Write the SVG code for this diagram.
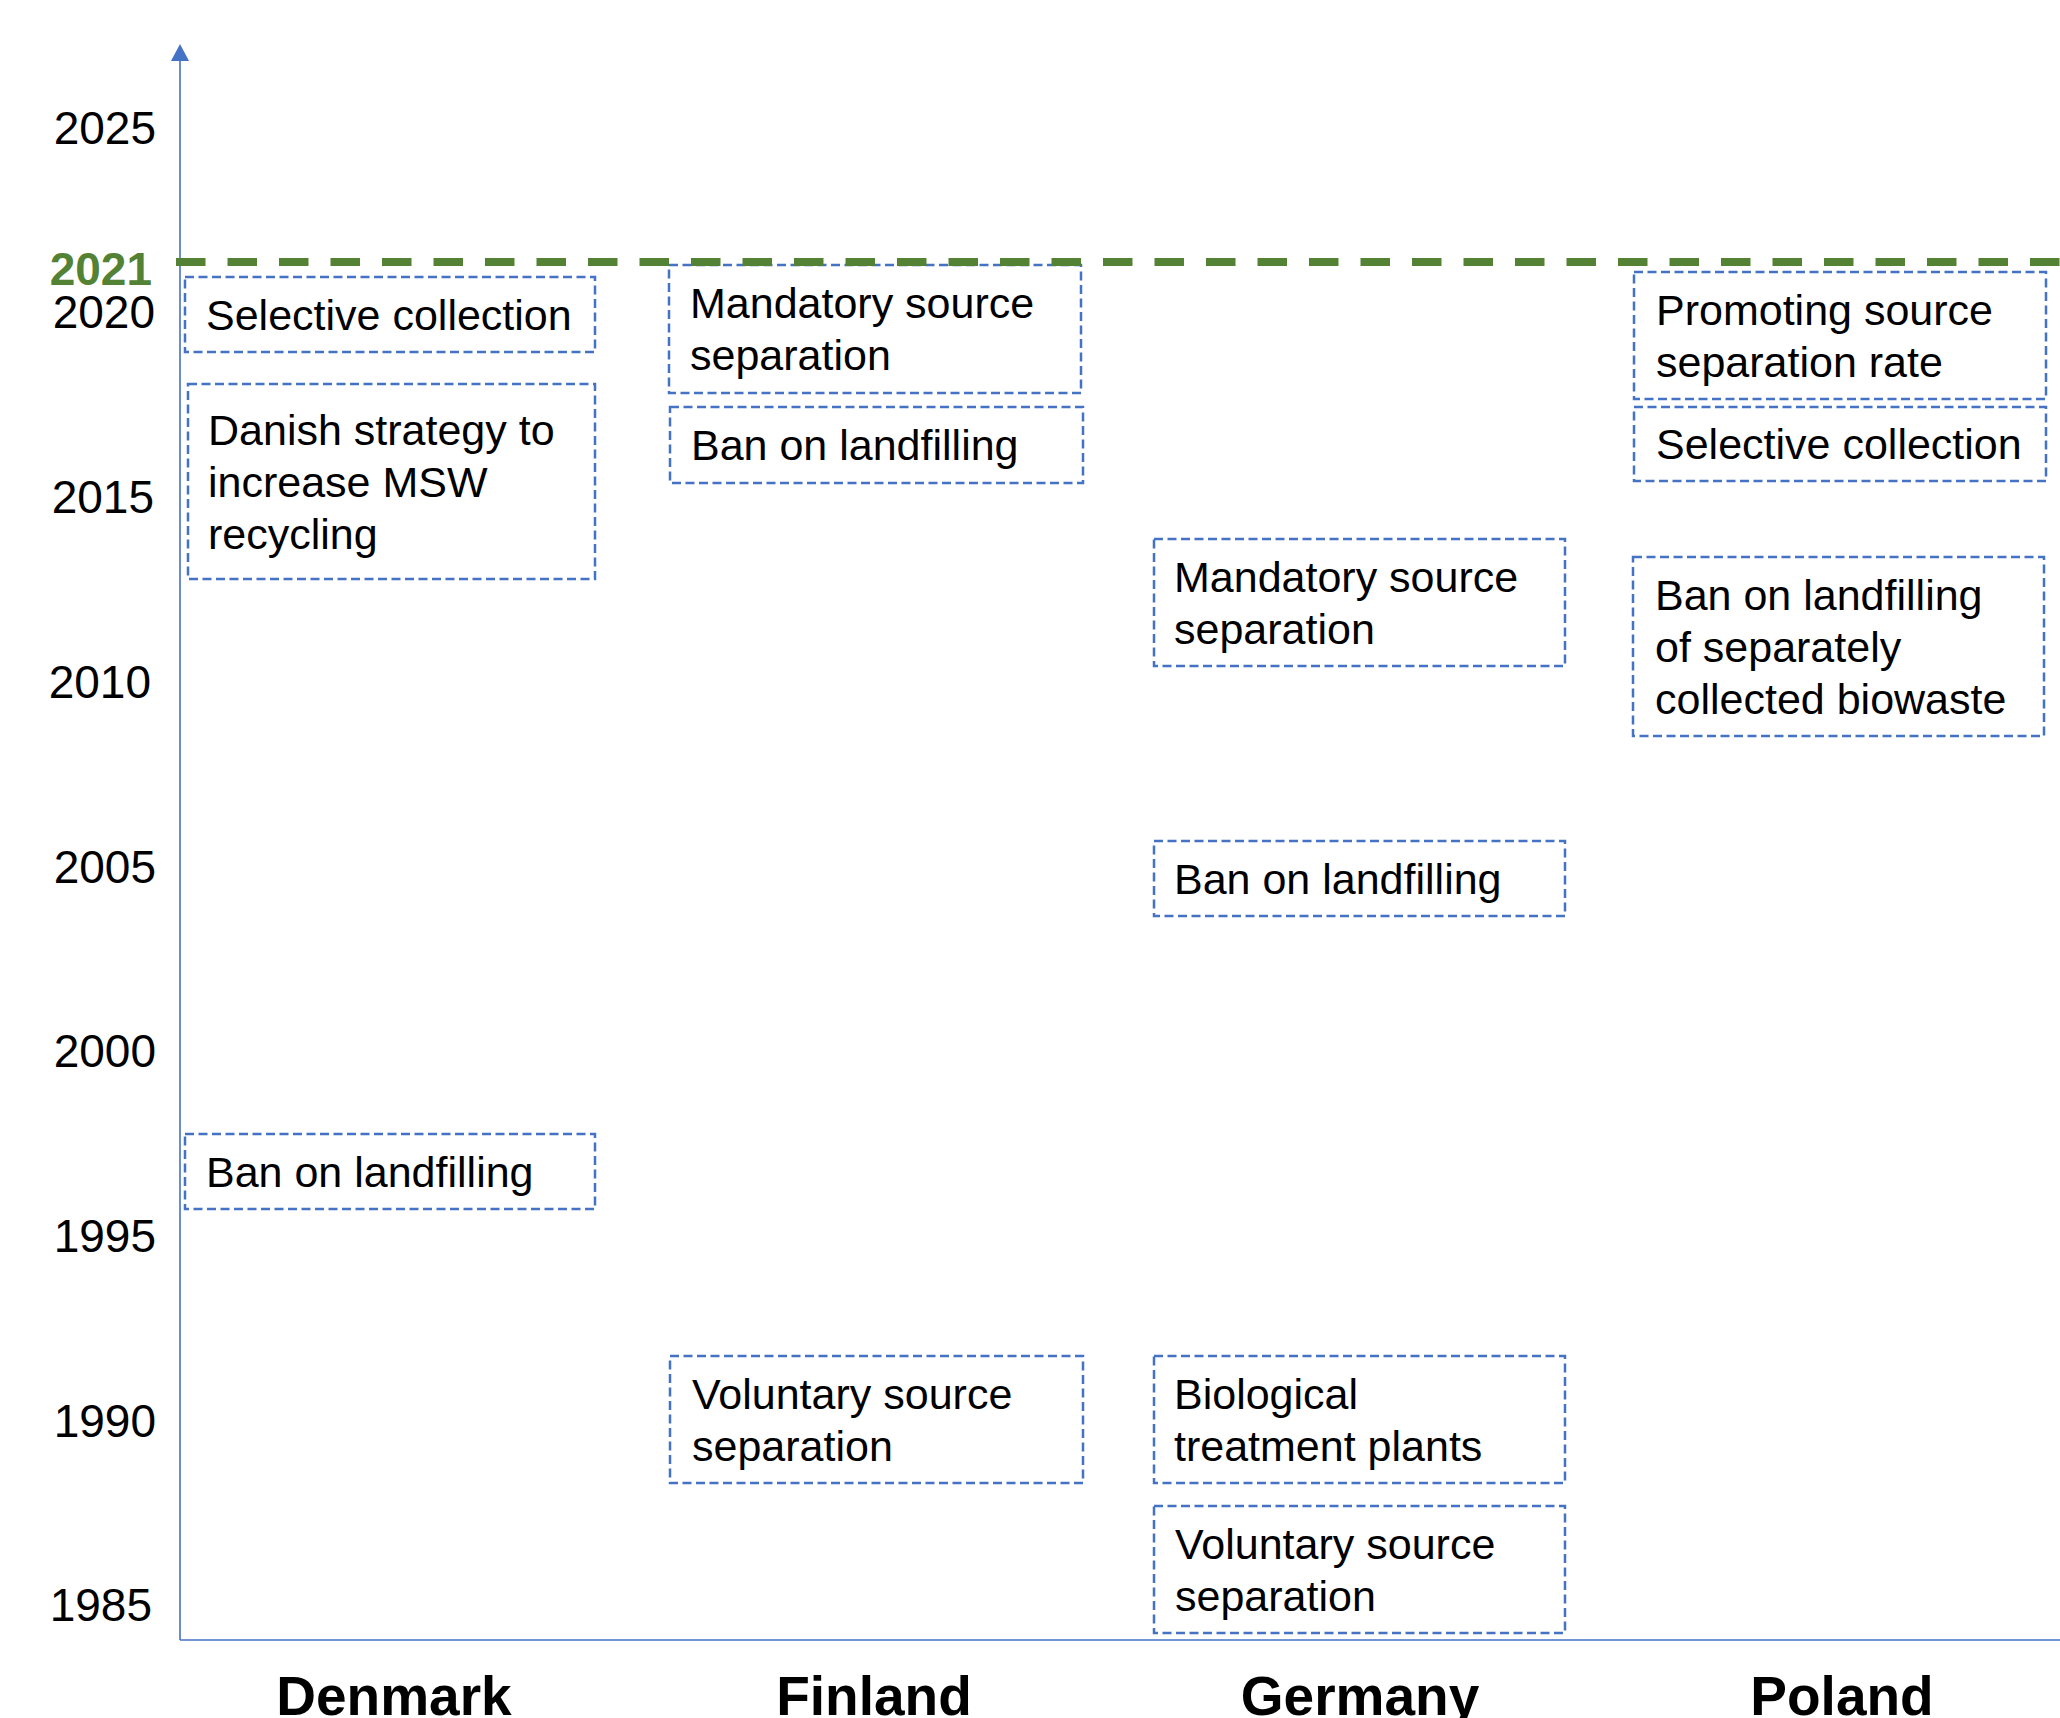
<svg xmlns="http://www.w3.org/2000/svg" width="2060" height="1718" viewBox="0 0 2060 1718">
<style>
.yr{font-family:"Liberation Sans",Arial,sans-serif;font-size:46px;fill:#000;text-anchor:end}
.box{fill:none;stroke:#4472C4;stroke-width:2.5;stroke-dasharray:9 4.5}
.t{font-family:"Liberation Sans",Arial,sans-serif;font-size:43px;fill:#000}
.country{font-family:"Liberation Sans",Arial,sans-serif;font-size:55px;font-weight:bold;fill:#000;text-anchor:middle}
.axis{stroke:#4472C4;stroke-width:1.6;fill:none}
</style>
<rect width="2060" height="1718" fill="#fff"/>
<g id="axes">
<line class="axis" x1="180" y1="1640" x2="180" y2="58"/>
<polygon points="180,44 171,61 189,61" fill="#4472C4"/>
<line class="axis" x1="180" y1="1640" x2="2060" y2="1640"/>
</g>
<g id="year-labels">
<text class="yr" x="156" y="144">2025</text>
<text class="yr" x="155" y="328">2020</text>
<text class="yr" x="154" y="513">2015</text>
<text class="yr" x="151" y="698">2010</text>
<text class="yr" x="156" y="883">2005</text>
<text class="yr" x="156" y="1067">2000</text>
<text class="yr" x="156" y="1252">1995</text>
<text class="yr" x="156" y="1437">1990</text>
<text class="yr" x="152" y="1621">1985</text>
</g>
<g id="dk-selective"><rect class="box" x="185" y="277" width="410" height="75"/><text class="t" x="206" y="330">Selective collection</text></g>
<g id="dk-strategy"><rect class="box" x="188" y="384" width="407" height="195"/><text class="t" x="208" y="445">Danish strategy to</text><text class="t" x="208" y="497">increase MSW</text><text class="t" x="208" y="549">recycling</text></g>
<g id="dk-ban"><rect class="box" x="185" y="1134" width="410" height="75"/><text class="t" x="206" y="1187">Ban on landfilling</text></g>
<g id="fi-mandatory"><rect class="box" x="669" y="265" width="412" height="128"/><text class="t" x="690" y="318">Mandatory source</text><text class="t" x="690" y="370">separation</text></g>
<g id="fi-ban"><rect class="box" x="670" y="407" width="413" height="76"/><text class="t" x="691" y="460">Ban on landfilling</text></g>
<g id="fi-voluntary"><rect class="box" x="670" y="1356" width="413" height="127"/><text class="t" x="692" y="1409">Voluntary source</text><text class="t" x="692" y="1461">separation</text></g>
<g id="de-mandatory"><rect class="box" x="1154" y="539" width="411" height="127"/><text class="t" x="1174" y="592">Mandatory source</text><text class="t" x="1174" y="644">separation</text></g>
<g id="de-ban"><rect class="box" x="1154" y="841" width="411" height="75"/><text class="t" x="1174" y="894">Ban on landfilling</text></g>
<g id="de-biological"><rect class="box" x="1154" y="1356" width="411" height="127"/><text class="t" x="1174" y="1409">Biological</text><text class="t" x="1174" y="1461">treatment plants</text></g>
<g id="de-voluntary"><rect class="box" x="1154" y="1506" width="411" height="127"/><text class="t" x="1175" y="1559">Voluntary source</text><text class="t" x="1175" y="1611">separation</text></g>
<g id="pl-promoting"><rect class="box" x="1634" y="272" width="412" height="127"/><text class="t" x="1656" y="325">Promoting source</text><text class="t" x="1656" y="377">separation rate</text></g>
<g id="pl-selective"><rect class="box" x="1634" y="407" width="412" height="74"/><text class="t" x="1656" y="459">Selective collection</text></g>
<g id="pl-ban"><rect class="box" x="1633" y="557" width="411" height="179"/><text class="t" x="1655" y="610">Ban on landfilling</text><text class="t" x="1655" y="662">of separately</text><text class="t" x="1655" y="714">collected biowaste</text></g>
<g id="marker-2021">
<line x1="176" y1="262" x2="2060" y2="262" stroke="#548235" stroke-width="8" stroke-dasharray="29.5 22"/>
<text x="152" y="285" font-family="'Liberation Sans',Arial,sans-serif" font-size="46" font-weight="bold" fill="#548235" text-anchor="end">2021</text>
</g>
<g id="countries">
<text class="country" x="394" y="1715">Denmark</text>
<text class="country" x="874" y="1715">Finland</text>
<text class="country" x="1360" y="1715">Germany</text>
<text class="country" x="1842" y="1715">Poland</text>
</g>
</svg>
